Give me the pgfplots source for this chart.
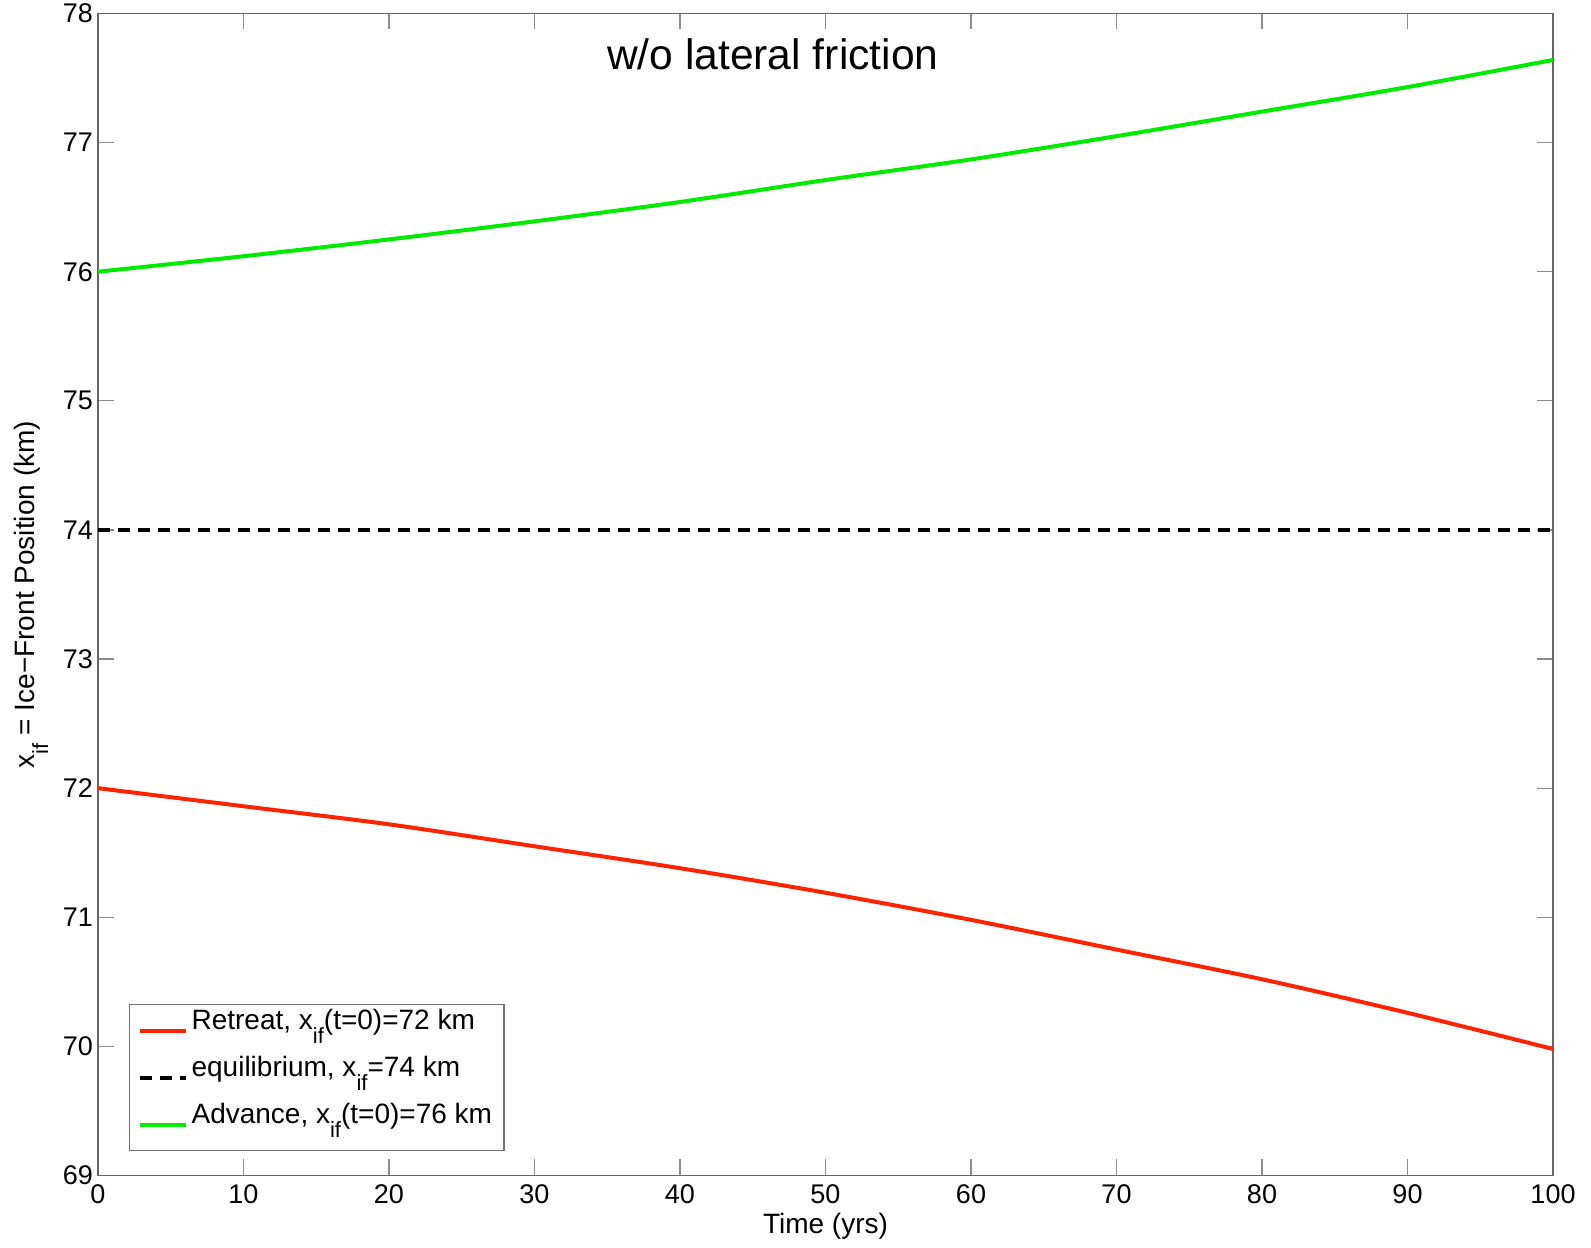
\documentclass[border=0pt]{standalone}
\usepackage{fontspec}
\setmainfont{Liberation Sans}
\usepackage{pgfplots}
\pgfplotsset{compat=1.18}
\definecolor{myred}{RGB}{255,35,0}
\definecolor{mygreen}{RGB}{0,235,0}
\newcommand{\subif}{\raisebox{-7pt}{\fontsize{11}{13}\selectfont if}}
\begin{document}
\begin{tikzpicture}
\begin{axis}[name=ax,
  scale only axis, width=727.5pt, height=581pt,
  xmin=0, xmax=100, ymin=69, ymax=78,
  xtick={0,10,...,100}, ytick={69,70,...,78},
  tick align=inside, major tick length=8pt,
  axis line style={draw=black!60, line width=0.9pt},
  tick style={draw=black!45, line width=0.6pt},
  /pgf/number format/assume math mode=true,
  ticklabel style={font=\fontsize{13.5}{16}\selectfont},
  yticklabel style={xshift=1pt},
  xticklabel style={yshift=-1pt},
  xlabel={Time (yrs)},
  ylabel={x\subif{} = Ice−Front Position (km)},
  label style={font=\fontsize{14}{17}\selectfont},
  xlabel style={at={(axis description cs:0.5,-0.044)}, anchor=center},
  ylabel style={at={(axis description cs:-0.046,0.5)}, anchor=center},
  legend style={at={(axis description cs:0.0213,0.0207)}, anchor=south west,
    draw=black!55, line width=0.6pt, font=\fontsize{14}{17}\selectfont,
    row sep=0.5pt, inner xsep=4pt, inner ysep=1.5pt,
    nodes={inner ysep=1pt, text height=10pt, text depth=11pt}},
  legend cell align=left,
  legend image code/.code={\draw[#1] (0pt,0pt) -- (23pt,0pt);},
]
\addplot[myred, line width=2pt, smooth] coordinates {
(0,72.0) (10,71.86) (20,71.72) (30,71.55) (40,71.38) (50,71.19) (60,70.98) (70,70.75) (80,70.52) (90,70.26) (100,69.98)};
\addlegendentry{Retreat, x\subif(t=0)=72 km}
\addplot[black, line width=2pt, dash pattern=on 6pt off 4pt] coordinates {(0,74) (100,74)};
\addlegendentry{equilibrium, x\subif=74 km}
\addplot[mygreen, line width=2pt, smooth] coordinates {
(0,76.0) (10,76.12) (20,76.25) (30,76.39) (40,76.54) (50,76.71) (60,76.87) (70,77.05) (80,77.24) (90,77.43) (100,77.64)};
\addlegendentry{Advance, x\subif(t=0)=76 km}
\node[anchor=base west, font=\fontsize{21.3}{25}\selectfont] at (axis description cs:0.345,0.9515) {w/o lateral friction};
\end{axis}
\pgfresetboundingbox
\path[use as bounding box] ([shift={(-49pt,-36pt)}]ax.south west) rectangle ([shift={(19pt,6.75pt)}]ax.north east);
\end{tikzpicture}
\end{document}
